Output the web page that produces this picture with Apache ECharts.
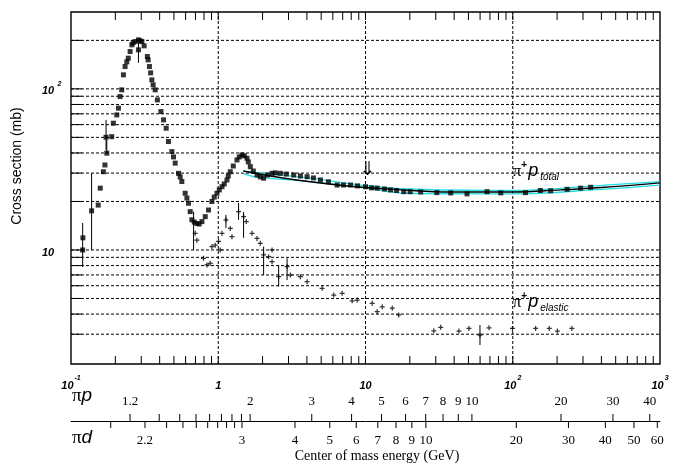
<!DOCTYPE html>
<html><head><meta charset="utf-8">
<script src="https://cdn.jsdelivr.net/npm/echarts@6/dist/echarts.min.js"></script>
<style>html,body{margin:0;padding:0;background:#fff;}#c{width:673px;height:464px;}</style>
</head><body><div id="c"></div>
<script>
// ---- pi+ p total cross section (lab momentum GeV/c, mb)
const totalP = [0.120,0.1205,0.138,0.153,0.158,0.166,0.170,0.175,0.173,0.189,
  0.194,0.210,0.221,0.227,0.233,0.245,0.252,0.259,0.273,0.287,
  0.303,0.287,0.330,0.341,0.354,0.373,0.386,0.408,0.425,0.443,
  0.459,0.484,0.510,0.537,0.566,0.596,0.628,0.645,0.662,0.716,
  0.775,0.816,0.859,0.906,0.980,1.060,1.146,1.207,1.340,1.449,
  1.567,1.651,1.833,2.033,2.319,2.641,3.253,4.013,4.942,6.42,
  7.91,10.0,12.0,14.8,18.2,20.1,30.5,48.9,66.9,122,
  154,234,289,338,
  0.2046,0.2154,0.2393,0.2641,0.2947,0.3137,0.3341,0.3474,0.3612,0.4967,
  0.5513,0.6125,0.6868,0.7425,0.9393,1.016,1.098,1.170,1.265,1.390,
  1.503,1.600,1.730,1.931,2.154,2.442,2.901,3.613,4.429,5.602,
  7.085,8.823,10.99,13.47,16.25,23.7,37.9,82.9,181];
const totalSigma = [10.0,11.9,17.5,19.0,24.2,30.6,33.7,39.9,50.1,50.5,
  61.2,75.9,98.6,122.2,137.6,155.1,170.5,187.6,196.7,201.5,
  196.7,174.7,158.7,137.6,113.7,98.6,85.4,72.3,64.2,57.0,
  47.1,40.8,34.6,29.9,26.6,22.5,19.5,17.3,15.4,14.6,
  15.0,16.1,17.7,20.0,22.5,24.7,27.2,30.6,36.2,38.9,
  37.1,32.9,29.2,27.9,29.9,29.9,29.2,28.5,27.2,25.3,
  25.3,24.7,24.2,23.6,23.0,23.0,22.7,22.3,23.0,22.7,
  23.4,23.8,24.2,24.5,
  68.9,89.6,147.2,193.1,198.7,185.0,151.4,125.7,105.9,37.8,
  28.4,21.0,14.9,14.5,21.3,23.6,25.7,28.8,33.2,37.8,
  38.4,35.2,30.9,28.4,29.2,30.1,29.6,28.8,28.0,26.5,
  25.3,25.0,24.3,23.9,23.4,22.9,22.6,22.6,23.3];
// error bars: [p, low, high]
const totalErrors = [[0.120,7.84,14.7],[0.138,10.0,29.9],[0.175,39.9,48.2],[0.173,41.8,64.2],[0.287,145.0,201.5]];

// ---- pi+ p elastic
const elasticP = [0.697,0.716,0.794,0.838,0.882,0.906,0.954,1.005,1.032,1.060,
  1.128,1.207,1.239,1.374,1.486,1.550,1.696,1.833,1.931,2.033,
  2.198,2.319,2.319,2.572,2.934,3.090,3.613,4.013,5.076,6.087,
  6.94,8.12,8.78,11.1,12.0,13.0,15.2,16.8,29.1,32.4,
  43.1,50.4,59.9,69.0,99.5,143,177,201,252];
const elasticSigma = [12.7,11.5,8.88,8.07,8.27,10.5,10.7,11.3,10.0,12.7,
  15.4,13.6,12.1,17.3,16.1,15.0,12.7,11.8,11.0,9.31,
  9.09,10.0,8.46,6.83,7.88,6.99,6.83,6.36,5.78,5.25,
  5.38,4.84,4.89,4.67,4.14,4.44,4.35,3.95,3.15,3.31,
  3.14,3.26,2.96,3.29,3.26,3.26,3.26,3.14,3.26];
const elasticErrors = [[0.68,10.0,17.3],[1.128,13.7,16.5],[1.374,15.4,19.6],[1.486,11.9,17.2],[2.033,6.99,10.5],[2.572,5.92,8.07],[2.934,6.51,8.88],[59.9,2.57,3.42]];

// ---- fit curve and its band
const fitP = [1.48,2.26,3.61,6.06,10,17.3,37.9,100,212,397,1000];
const fitSigma = [30.9,28.8,27.0,25.5,24.4,23.6,22.9,22.9,23.6,24.4,26.1];
const bandUpperP = [1.48,4.2,9.3,20,100,400,1000];
const bandUpperSigma = [30.9,27.9,25.3,23.9,23.4,25.2,26.6];
const bandLowerP = [1.48,1.83,4.2,9.3,19.2,100,400,1000];
const bandLowerSigma = [29.8,28.3,26.6,24.5,22.5,22.3,23.8,25.3];

// ---- axes / ticks
const xMin = 0.1, xMax = 1000, yMin = 1.96, yMax = 300;
const xTickValues = [0.2,0.3,0.4,0.5,0.6,0.7,0.8,0.9,1,2,3,4,5,6,7,8,9,10,20,30,40,50,60,70,80,90,100,200,300,400,500,600,700,800,900];
const xGridValues = [1,10,100];
const yGridValues = [3,4,5,6,7,8,9,10,20,30,40,50,60,70,80,90,100,200];
// centre-of-mass energy scales (GeV)
const piPTicks = [1.2,1.3,1.4,1.5,1.6,1.7,1.8,1.9,2,3,4,5,6,7,8,9,10,20,30,40];
const piPLabels = [1.2,2,3,4,5,6,7,8,9,10,20,30,40];
const piDTicks = [2.1,2.2,2.3,2.4,2.5,2.6,2.7,2.8,2.9,3,4,5,6,7,8,9,10,20,30,40,50,60];
const piDLabels = [2.2,3,4,5,6,7,8,9,10,20,30,40,50,60];

// annotations
const annotP = [100, 100, 10.3];
const annotSigma = [30.9, 4.75, 31.4];

// physics: lab momentum corresponding to a centre-of-mass energy
const M_PI = 0.13957, M_P = 0.93827, M_D = 1.87561;
function pLab(sqrtS, mT) {
  const s = sqrtS * sqrtS;
  const E = (s - M_PI * M_PI - mT * mT) / (2 * mT);
  return Math.sqrt(E * E - M_PI * M_PI);
}

const zip = (a, b) => a.map((v, i) => [v, b[i]]);
const SANS = '"Liberation Sans", Arial, sans-serif';
const SERIF = '"Liberation Serif", "Times New Roman", serif';

function errSeries(rows) {
  return {
    type: 'custom', z: 4, silent: true, data: rows,
    renderItem(params, api) {
      const a = api.coord([api.value(0), api.value(1)]);
      const b = api.coord([api.value(0), api.value(2)]);
      return {type: 'line', shape: {x1: a[0], y1: a[1], x2: b[0], y2: b[1]}, style: {stroke: '#000', lineWidth: 1}};
    }
  };
}

function scaleSeries(tickVals, labelVals, mT, dir) {
  const rows = tickVals.map(v => [pLab(v, mT), 0]);
  return {
    type: 'custom', xAxisIndex: 1, yAxisIndex: 1, silent: true, data: rows,
    renderItem(params, api) {
      const v = tickVals[params.dataIndex];
      const c = api.coord([api.value(0), 0]);
      const children = [{type: 'line', shape: {x1: c[0], y1: c[1], x2: c[0], y2: c[1] + dir * 7}, style: {stroke: '#000', lineWidth: 1}}];
      if (labelVals.indexOf(v) >= 0) {
        children.push({type: 'text', style: {text: String(v), x: c[0], y: c[1] + dir * 19.5, align: 'center', verticalAlign: 'middle',
          font: '13px ' + SERIF, fill: '#000'}});
      }
      return {type: 'group', children};
    }
  };
}

const chart = echarts.init(document.getElementById('c'), null, {renderer: 'canvas'});
chart.setOption({
  animation: false,
  backgroundColor: '#fff',
  grid: [
    {left: 71, top: 12, width: 589, height: 352, show: true, borderColor: '#000', borderWidth: 1.4, backgroundColor: 'transparent'},
    {left: 71, top: 420, width: 589, height: 1, show: false}
  ],
  xAxis: [
    {type: 'log', logBase: 10, min: xMin, max: xMax, gridIndex: 0,
     axisLine: {show: false}, axisTick: {show: false}, splitLine: {show: false},
     axisLabel: {margin: 11, color: '#000',
       formatter: v => {
         const e = Math.round(Math.log10(v));
         if (e === 0) return '{b|1}';
         if (e === 1) return '{b|10}';
         return '{b|10}{s|' + e + '}';
       },
       rich: {b: {fontSize: 11, fontWeight: 'bold', fontStyle: 'italic', fontFamily: SANS, lineHeight: 16, verticalAlign: 'bottom'},
              s: {fontSize: 7, fontWeight: 'bold', fontStyle: 'italic', fontFamily: SANS, verticalAlign: 'top', padding: [0, 0, 0, 1]}}}},
    {type: 'log', logBase: 10, min: xMin, max: xMax, gridIndex: 1,
     axisLine: {show: true, onZero: false, lineStyle: {color: '#000', width: 1}},
     axisTick: {show: false}, axisLabel: {show: false}, splitLine: {show: false}}
  ],
  yAxis: [
    {type: 'log', logBase: 10, min: yMin, max: yMax, gridIndex: 0,
     axisLine: {show: false}, axisTick: {show: false}, splitLine: {show: false},
     axisLabel: {margin: 29, align: 'left', color: '#000',
       formatter: v => {
         const l = Math.log10(v), e = Math.round(l);
         if (Math.abs(l - e) > 1e-6) return '';
         return e === 1 ? '{b|10}' : '{b|10} {s|' + e + '}';
       },
       rich: {b: {fontSize: 11, fontWeight: 'bold', fontStyle: 'italic', fontFamily: SANS, lineHeight: 16, verticalAlign: 'bottom'},
              s: {fontSize: 7, fontWeight: 'bold', fontStyle: 'italic', fontFamily: SANS, verticalAlign: 'top'}}}},
    {type: 'value', min: 0, max: 1, gridIndex: 1, show: false}
  ],
  graphic: [
    {type: 'text', x: 17, y: 166, rotation: Math.PI / 2,
     style: {text: 'Cross section (mb)', font: '14px ' + SANS, fill: '#000', align: 'center', verticalAlign: 'middle'}},
    {type: 'text', x: 72, y: 396,
     style: {text: '{a|π}{b|p}', align: 'left', verticalAlign: 'middle',
       rich: {a: {fontSize: 19, fontFamily: SERIF, fill: '#000'}, b: {fontSize: 19, fontFamily: SANS, fontStyle: 'italic', fill: '#000'}}}},
    {type: 'text', x: 72, y: 438,
     style: {text: '{a|π}{b|d}', align: 'left', verticalAlign: 'middle',
       rich: {a: {fontSize: 19, fontFamily: SERIF, fill: '#000'}, b: {fontSize: 19, fontFamily: SANS, fontStyle: 'italic', fill: '#000'}}}},
    {type: 'text', x: 377, y: 456,
     style: {text: 'Center of mass energy (GeV)', font: '14px ' + SERIF, fill: '#000', align: 'center', verticalAlign: 'middle'}}
  ],
  series: [
    // horizontal grid lines + left ticks
    {type: 'custom', z: 1, silent: true, data: yGridValues.map(v => [xMin, v]),
     renderItem(params, api) {
       const a = api.coord([xMin, api.value(1)]);
       const b = api.coord([xMax, api.value(1)]);
       return {type: 'group', children: [
         {type: 'line', shape: {x1: a[0], y1: a[1], x2: b[0], y2: b[1]}, style: {stroke: '#000', lineWidth: 1, lineDash: [3, 2]}},
         {type: 'line', shape: {x1: a[0], y1: a[1], x2: a[0] + 11, y2: a[1]}, style: {stroke: '#000', lineWidth: 1}}
       ]};
     }},
    // vertical grid lines
    {type: 'custom', z: 1, silent: true, data: xGridValues.map(v => [v, yMin]),
     renderItem(params, api) {
       const a = api.coord([api.value(0), yMin]);
       const b = api.coord([api.value(0), yMax]);
       return {type: 'line', shape: {x1: a[0], y1: a[1], x2: b[0], y2: b[1]}, style: {stroke: '#000', lineWidth: 1, lineDash: [3, 2]}};
     }},
    // x ticks on bottom and top
    {type: 'custom', z: 2, silent: true, data: xTickValues.map(v => [v, yMin]),
     renderItem(params, api) {
       const a = api.coord([api.value(0), yMin]);
       const b = api.coord([api.value(0), yMax]);
       return {type: 'group', children: [
         {type: 'line', shape: {x1: a[0], y1: a[1], x2: a[0], y2: a[1] - 8}, style: {stroke: '#000', lineWidth: 1}},
         {type: 'line', shape: {x1: b[0], y1: b[1], x2: b[0], y2: b[1] + 8}, style: {stroke: '#000', lineWidth: 1}}
       ]};
     }},
    // cyan band and fit
    {type: 'line', z: 3, smooth: 0.4, symbol: 'none', silent: true, data: zip(bandUpperP, bandUpperSigma), lineStyle: {color: '#22dde6', width: 1.3}},
    {type: 'line', z: 3, smooth: 0.4, symbol: 'none', silent: true, data: zip(bandLowerP, bandLowerSigma), lineStyle: {color: '#22dde6', width: 1.3}},
    {type: 'line', z: 4, smooth: 0.4, symbol: 'none', silent: true, data: zip(fitP, fitSigma), lineStyle: {color: '#000', width: 1.4}},
    // data
    {type: 'scatter', z: 5, silent: true, symbol: 'rect', symbolSize: 5, itemStyle: {color: '#000'}, data: zip(totalP, totalSigma)},
    {type: 'scatter', z: 5, silent: true, symbol: 'path://M3,0H5V3H8V5H5V8H3V5H0V3H3Z', symbolSize: 5, itemStyle: {color: '#000'}, data: zip(elasticP, elasticSigma)},
    errSeries(totalErrors),
    errSeries(elasticErrors),
    // annotations
    {type: 'custom', z: 6, silent: true, data: zip(annotP, annotSigma),
     renderItem(params, api) {
       const c = api.coord([api.value(0), api.value(1)]);
       const i = params.dataIndex;
       if (i === 2) {
         return {type: 'text', style: {text: '⇓', x: c[0], y: c[1], align: 'center', verticalAlign: 'middle', font: '19px "DejaVu Sans"', fill: '#000'}};
       }
       const sub = i === 0 ? 'total' : 'elastic';
       return {type: 'text', style: {text: '{pi|π}{sup|+}{p|p}{sub|' + sub + '}', x: c[0], y: c[1], align: 'left', verticalAlign: 'middle',
         rich: {
           pi: {fontSize: 17, fontFamily: SERIF, lineHeight: 22, verticalAlign: 'middle', fill: '#000'},
           sup: {fontSize: 10, fontWeight: 'bold', fontFamily: SANS, verticalAlign: 'top', fill: '#000'},
           p: {fontSize: 18, fontStyle: 'italic', fontFamily: SANS, lineHeight: 22, verticalAlign: 'middle', fill: '#000', padding: [0, 2, 0, 1]},
           sub: {fontSize: 10, fontStyle: 'italic', fontFamily: SANS, verticalAlign: 'bottom', fill: '#000'}
         }}};
     }},
    // centre-of-mass energy scales
    scaleSeries(piPTicks, piPLabels, M_P, -1),
    scaleSeries(piDTicks, piDLabels, M_D, 1)
  ]
});
</script>
</body></html>
